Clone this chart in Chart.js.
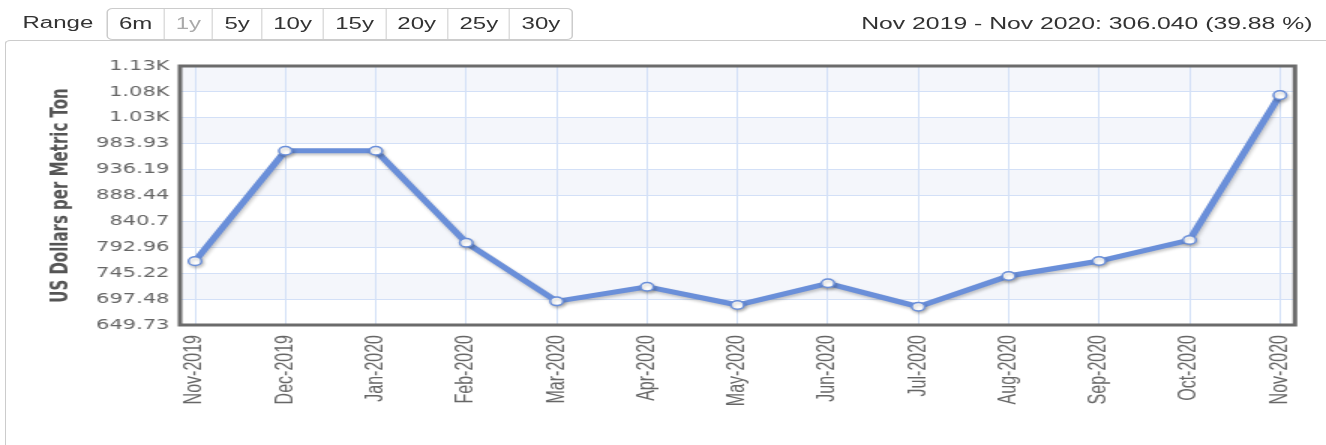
<!DOCTYPE html>
<html>
<head>
<meta charset="utf-8">
<script src="https://cdn.jsdelivr.net/npm/chart.js@4.4.0/dist/chart.umd.min.js"></script>
<style>
  html, body { margin: 0; padding: 0; background: #fff; overflow: hidden; }
  #page {
    position: absolute; left: 0; top: 0; width: 884px; height: 445px;
    transform: scaleX(1.5); transform-origin: 0 0;
    font-family: "Liberation Sans", Arial, sans-serif; color: #333;
  }
  #range { position: absolute; left: 15px; top: 14px; font-size: 16px; }
  #buttons {
    position: absolute; left: 71px; top: 8px; height: 32px; display: flex;
    border: 1px solid #ccc; border-radius: 4px; box-sizing: border-box;
  }
  #buttons span {
    padding: 0 7.3px; font-size: 16px; line-height: 30px; border-left: 1px solid #ddd;
  }
  #buttons span:first-child { border-left: none; }
  #buttons span.off { color: #aaa; }
  #change { position: absolute; right: 9px; top: 14px; font-size: 16.5px; }
  #box {
    position: absolute; left: 3px; top: 40px; right: 0; bottom: 0;
    border-top: 1px solid #ccc; border-left: 1px solid #ccc; border-top-left-radius: 4px;
  }
  #wrap { position: absolute; left: 0; top: 41px; width: 884px; height: 404px; }
</style>
</head>
<body>
<div id="page">
  <div id="range">Range</div>
  <div id="buttons">
    <span>6m</span><span class="off">1y</span><span>5y</span><span>10y</span><span>15y</span><span>20y</span><span>25y</span><span>30y</span>
  </div>
  <div id="change">Nov 2019 - Nov 2020: 306.040 (39.88 %)</div>
  <div id="box"></div>
  <div id="wrap"><canvas id="priceChart"></canvas></div>
</div>
<script>
// monthly price, US$ per metric ton
const months = ['Nov-2019', 'Dec-2019', 'Jan-2020', 'Feb-2020', 'Mar-2020', 'Apr-2020', 'May-2020',
                'Jun-2020', 'Jul-2020', 'Aug-2020', 'Sep-2020', 'Oct-2020', 'Nov-2020'];
const prices = [767.4, 971.0, 971.0, 801.4, 693.4, 720.3, 686.6, 726.6, 683.5, 740.1, 767.7, 806.4, 1073.4];

const yTickValues = [649.73, 697.48, 745.22, 792.96, 840.70, 888.44, 936.19, 983.93, 1031.67, 1079.42, 1127.16];
const yTickLabels = ['649.73', '697.48', '745.22', '792.96', '840.7', '888.44', '936.19', '983.93', '1.03K', '1.08K', '1.13K'];

const gridColor = '#d3e0f7';
const lineColor = '#6a8fd9';

// alternating bands behind the grid
const bandsPlugin = {
    id: 'bands',
    beforeDraw: (chart) => {
        const { ctx, chartArea: a, scales: { y } } = chart;
        ctx.save();
        ctx.fillStyle = '#f4f6fb';
        for (let i = 1; i < yTickValues.length - 1; i += 2) {
            const top = y.getPixelForValue(yTickValues[i + 1]);
            const bottom = y.getPixelForValue(yTickValues[i]);
            ctx.fillRect(a.left, top, a.right - a.left, bottom - top);
        }
        ctx.restore();
    }
};

// dark frame around plot
const framePlugin = {
    id: 'frame',
    afterDatasetsDraw: (chart) => {
        const { ctx, chartArea: a } = chart;
        ctx.save();
        ctx.strokeStyle = '#6b6b6b';
        ctx.lineWidth = 3;
        ctx.strokeRect(a.left, a.top, a.right - a.left, a.bottom - a.top);
        ctx.restore();
    }
};

// soft shadow under the series
const shadowPlugin = {
    id: 'shadow',
    beforeDatasetDraw: (chart) => {
        const ctx = chart.ctx;
        ctx.save();
        ctx.shadowColor = 'rgba(0,0,0,0.22)';
        ctx.shadowBlur = 3;
        ctx.shadowOffsetX = 1;
        ctx.shadowOffsetY = 2;
    },
    afterDatasetDraw: (chart) => {
        chart.ctx.restore();
    }
};

new Chart(document.getElementById('priceChart'), {
    type: 'line',
    data: {
        datasets: [{
            data: prices.map((v, i) => ({ x: i, y: v })),
            borderColor: lineColor,
            borderWidth: 5,
            tension: 0,
            pointRadius: 4.3,
            pointBackgroundColor: '#fff',
            pointBorderColor: lineColor,
            pointBorderWidth: 1.5
        }]
    },
    options: {
        responsive: true,
        maintainAspectRatio: false,
        animation: false,
        layout: { padding: { top: 25, right: 20.7, left: 0, bottom: 0 } },
        plugins: { legend: { display: false }, tooltip: { enabled: false } },
        scales: {
            x: {
                type: 'linear',
                min: -0.166,
                max: months.length - 1 + 0.166,
                afterBuildTicks: (s) => { s.ticks = months.map((_, i) => ({ value: i })); },
                afterFit: (s) => { s.height = 120; },
                grid: { color: gridColor, drawTicks: false },
                border: { display: false },
                ticks: {
                    callback: (v) => months[v],
                    autoSkip: false,
                    minRotation: 90,
                    maxRotation: 90,
                    padding: 10,
                    color: '#666',
                    font: { family: 'Liberation Sans', size: 16 }
                }
            },
            y: {
                min: yTickValues[0],
                max: yTickValues[yTickValues.length - 1],
                afterBuildTicks: (s) => { s.ticks = yTickValues.map(v => ({ value: v })); },
                afterFit: (s) => { s.width = 120; },
                grid: { color: gridColor, drawTicks: false },
                border: { display: false },
                ticks: {
                    callback: (v, i) => yTickLabels[i],
                    padding: 7,
                    color: '#666',
                    font: { family: 'DejaVu Sans', size: 14 }
                },
                title: {
                    display: true,
                    text: 'US Dollars per Metric Ton',
                    color: '#555',
                    padding: { top: 32, bottom: 0 },
                    font: { family: 'DejaVu Sans', size: 15, weight: 'bold' }
                }
            }
        }
    },
    plugins: [bandsPlugin, shadowPlugin, framePlugin]
});
</script>
</body>
</html>
